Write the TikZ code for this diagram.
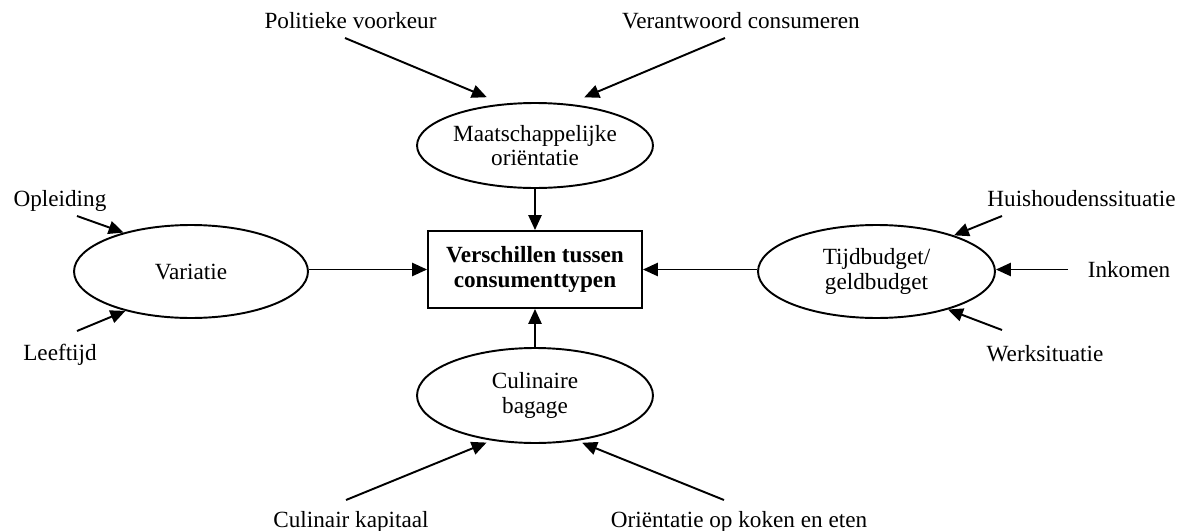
\documentclass[tikz,border=0pt]{standalone}
\usepackage{fontspec}
\setmainfont{Liberation Serif}
\usetikzlibrary{arrows.meta,shapes.geometric}

\begin{document}
\begin{tikzpicture}[x=0.02cm, y=0.02cm,
  every node/.style={inner sep=0pt, font=\fontsize{13.2}{13.8}\selectfont},
  oval/.style={draw, ellipse, line width=1.1pt, align=center},
  kader/.style={draw, rectangle, line width=1.1pt, align=center, font=\fontsize{13.2}{14.2}\selectfont\bfseries},
  pijl/.style={line width=1.1pt, -{Triangle[length=8.5pt,width=7.5pt]}}]
\useasboundingbox (0,0) rectangle (1184,-531);
\node [kader, minimum width=4.28cm, minimum height=1.54cm] (doel) at (535,-269.5) {Verschillen tussen\\consumenttypen};
\node [oval, minimum width=4.72cm, minimum height=1.7cm] (maat) at (535,-145.5) {Maatschappelijke\\oriëntatie};
\node [oval, minimum width=4.68cm, minimum height=1.86cm] (var) at (191,-271.5) {Variatie};
\node [oval, minimum width=4.74cm, minimum height=1.86cm] (tijd) at (876.5,-271.5) {Tijdbudget/\\geldbudget};
\node [oval, minimum width=4.72cm, minimum height=1.9cm] (cul) at (535,-395.5) {Culinaire\\bagage};
\node [anchor=base] (pol) at (350.5,-28) {Politieke voorkeur};
\node [anchor=base] (ver) at (741,-28) {Verantwoord consumeren};
\node [anchor=base] (opl) at (60,-206) {Opleiding};
\node [anchor=base] (lee) at (60,-360) {Leeftijd};
\node [anchor=base] (hui) at (1081.5,-206) {Huishoudenssituatie};
\node [anchor=base] (ink) at (1129,-277) {Inkomen};
\node [anchor=base] (wer) at (1045,-361) {Werksituatie};
\node [anchor=base] (culk) at (351,-527) {Culinair kapitaal};
\node [anchor=base] (ori) at (739,-527) {Oriëntatie op koken en eten};
\coordinate (polpunt) at (345,-38);
\coordinate (verpunt) at (725,-38);
\coordinate (oplpunt) at (77,-216);
\coordinate (leepunt) at (77,-331);
\coordinate (huipunt) at (1002,-216);
\coordinate (inkpunt) at (1068,-269.5);
\coordinate (werpunt) at (1002,-330);
\coordinate (culkpunt) at (346,-500);
\coordinate (oripunt) at (724,-500);
\draw [pijl] (maat) -- (doel);
\draw [pijl] (cul) -- (doel);
\draw [pijl] (var.east |- doel.west) -- (doel.west);
\draw [pijl] (tijd.west |- doel.east) -- (doel.east);
\draw [pijl, shorten >=9.6pt] (polpunt) -- (maat.128.4);
\draw [pijl, shorten >=9.6pt] (verpunt) -- (maat.51.6);
\draw [pijl] (oplpunt) -- (var.150.7);
\draw [pijl] (leepunt) -- (var.211.3);
\draw [pijl] (huipunt) -- (tijd.25.5);
\draw [pijl] (inkpunt) -- (tijd.east |- inkpunt);
\draw [pijl] (werpunt) -- (tijd.332.1);
\draw [pijl, shorten >=3pt] (culkpunt) -- (cul.226.2);
\draw [pijl, shorten >=3pt] (oripunt) -- (cul.313.8);
\end{tikzpicture}
\end{document}
